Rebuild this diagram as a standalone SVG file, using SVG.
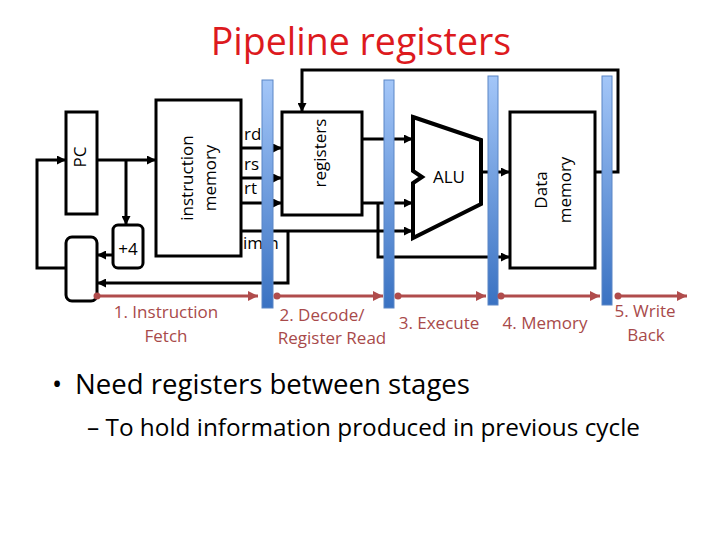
<svg xmlns="http://www.w3.org/2000/svg" width="720" height="540" viewBox="0 0 720 540">
<style>
.box{fill:#fff;stroke:#000;stroke-width:3}
.ln{fill:none;stroke:#000;stroke-width:3}
.red{fill:none;stroke:#b04c4c;stroke-width:3}
.lbl{font-family:"Open Sans","Liberation Sans",sans-serif;font-size:17px;fill:#000}
.stg{font-family:"Open Sans","Liberation Sans",sans-serif;font-size:17px;fill:#a84a4a;text-anchor:middle}
.bar{fill:url(#bg);stroke:#5b86c6;stroke-width:1}
</style>
<defs>
<linearGradient id="bg" x1="0" y1="0" x2="0" y2="1">
<stop offset="0" stop-color="#a3c6f8"/>
<stop offset="1" stop-color="#3a72c2"/>
</linearGradient>
<marker id="ah" markerUnits="userSpaceOnUse" markerWidth="9" markerHeight="9" refX="9" refY="4.5" orient="auto">
<path d="M0,0 L9,4.5 L0,9 z" fill="#000"/>
</marker>
<marker id="rh" markerUnits="userSpaceOnUse" markerWidth="10" markerHeight="10" refX="10" refY="5" orient="auto">
<path d="M0,0 L10,5 L0,10 z" fill="#b04c4c"/>
</marker>
<marker id="rd" markerUnits="userSpaceOnUse" markerWidth="8" markerHeight="8" refX="4" refY="4" orient="auto">
<circle cx="4" cy="4" r="3.5" fill="#b04c4c"/>
</marker>
</defs>

<text x="361" y="55" text-anchor="middle" font-family="'Open Sans','Liberation Sans',sans-serif" font-size="37.5" fill="#dd1a1e">Pipeline registers</text>

<g id="connectors">
<path class="ln" d="M97,160 H156" marker-end="url(#ah)"/>
<path class="ln" d="M126,160 V225" marker-end="url(#ah)"/>
<path class="ln" d="M113,255 H97" marker-end="url(#ah)"/>
<path class="ln" d="M66,268 H37 V160 H66" marker-end="url(#ah)"/>
<path class="ln" d="M241,148 H282" marker-end="url(#ah)"/>
<path class="ln" d="M241,178 H282" marker-end="url(#ah)"/>
<path class="ln" d="M241,203 H282" marker-end="url(#ah)"/>
<path class="ln" d="M237,231 H413" marker-end="url(#ah)"/>
<path class="ln" d="M288,231 V283 H97" marker-end="url(#ah)"/>
<path class="ln" d="M362,139 H413" marker-end="url(#ah)"/>
<path class="ln" d="M362,203 H413" marker-end="url(#ah)"/>
<path class="ln" d="M378,203 V257 H510" marker-end="url(#ah)"/>
<path class="ln" d="M481,172 H510" marker-end="url(#ah)"/>
<path class="ln" d="M595,172 H618 V70 H302 V112" marker-end="url(#ah)"/>
</g>

<g id="pc">
<rect class="box" x="66" y="112" width="31" height="102"/>
<text class="lbl" transform="translate(86,157) rotate(-90)" text-anchor="middle" font-size="15">PC</text>
</g>
<g id="mux">
<rect class="box" x="66" y="237" width="31" height="64" rx="6"/>
</g>
<g id="plus4">
<rect class="box" x="113" y="225" width="30" height="43" rx="5"/>
<text class="lbl" x="128" y="255" text-anchor="middle">+4</text>
</g>
<g id="imem">
<rect class="box" x="156" y="100" width="85" height="156"/>
<text class="lbl" transform="translate(193,178) rotate(-90)" text-anchor="middle">instruction</text>
<text class="lbl" transform="translate(216,178) rotate(-90)" text-anchor="middle">memory</text>
</g>
<g id="fields">
<text class="lbl" x="244" y="140" font-size="16">rd</text>
<text class="lbl" x="244" y="170" font-size="16">rs</text>
<text class="lbl" x="244" y="194" font-size="16">rt</text>
<text class="lbl" x="243" y="249" font-size="16">imm</text>
</g>
<g id="registers">
<rect class="box" x="282" y="112" width="80" height="103"/>
<text class="lbl" transform="translate(326,153) rotate(-90)" text-anchor="middle">registers</text>
</g>
<g id="alu">
<polygon points="413,117 481,140 481,204 413,238 413,183 422,177 413,171" fill="#fff" stroke="#000" stroke-width="4" stroke-linejoin="miter"/>
<text class="lbl" x="449" y="183" text-anchor="middle" font-size="16">ALU</text>
</g>
<g id="dmem">
<rect class="box" x="510" y="112" width="85" height="156"/>
<text class="lbl" transform="translate(547,190) rotate(-90)" text-anchor="middle">Data</text>
<text class="lbl" transform="translate(571,190) rotate(-90)" text-anchor="middle">memory</text>
</g>

<g id="pipeline-bars">
<rect class="bar" x="262" y="80" width="11" height="228"/>
<rect class="bar" x="384" y="80" width="10" height="228"/>
<rect class="bar" x="488" y="76" width="10" height="229"/>
<rect class="bar" x="602" y="76" width="10" height="229"/>
</g>

<g id="stage-arrows">
<path class="red" d="M97,296 H258" marker-start="url(#rd)" marker-end="url(#rh)"/>
<path class="red" d="M277,296 H383" marker-start="url(#rd)" marker-end="url(#rh)"/>
<path class="red" d="M398,296 H486" marker-start="url(#rd)" marker-end="url(#rh)"/>
<path class="red" d="M501,296 H600" marker-start="url(#rd)" marker-end="url(#rh)"/>
<path class="red" d="M618,296 H687" marker-start="url(#rd)" marker-end="url(#rh)"/>
</g>

<g id="stage-labels">
<text class="stg" x="166" y="318">1. Instruction</text>
<text class="stg" x="166" y="342">Fetch</text>
<text class="stg" x="322" y="321">2. Decode/</text>
<text class="stg" x="332" y="344">Register Read</text>
<text class="stg" x="439" y="329">3. Execute</text>
<text class="stg" x="545" y="329">4. Memory</text>
<text class="stg" x="645" y="317">5. Write</text>
<text class="stg" x="646" y="341">Back</text>
</g>

<g id="bullets" font-family="'Open Sans','Liberation Sans',sans-serif" fill="#000">
<text x="52" y="394" font-size="27">•</text>
<text x="75" y="394" font-size="27.5" textLength="395" lengthAdjust="spacingAndGlyphs">Need registers between stages</text>
<text x="87" y="436" font-size="23" textLength="553" lengthAdjust="spacingAndGlyphs">– To hold information produced in previous cycle</text>
</g>
</svg>
